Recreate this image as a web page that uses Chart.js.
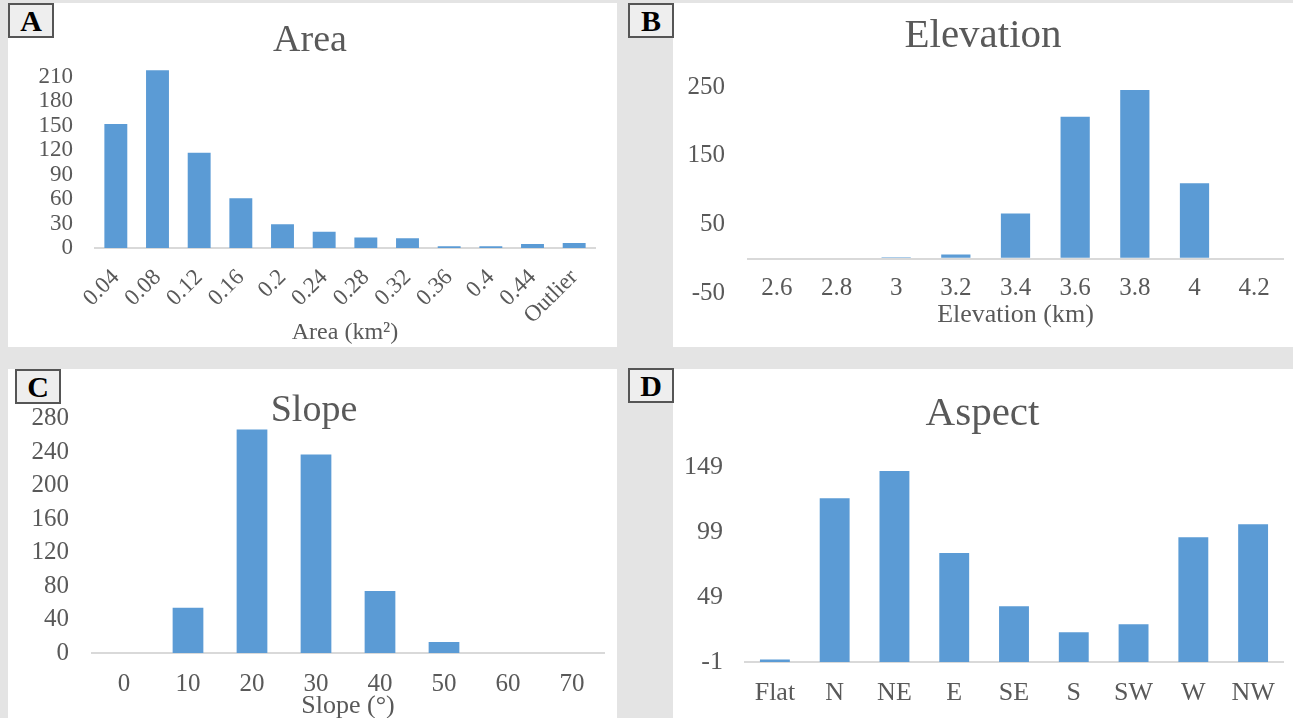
<!DOCTYPE html>
<html lang="en">
<head>
    <meta charset="UTF-8">
    <title>Area, Elevation, Slope, Aspect</title>
    <script src="https://cdn.jsdelivr.net/npm/chart.js"></script>
    <style>
        body {
            margin: 0;
            width: 1293px;
            height: 718px;
            background-color: #e4e4e4;
            position: relative;
            overflow: hidden;
            font-family: "Liberation Serif", "Times New Roman", serif;
        }
        .panel {
            position: absolute;
            background: #fff;
        }
        .tag {
            position: absolute;
            box-sizing: border-box;
            width: 46px;
            height: 35px;
            background: #eeeeee;
            border: 2px solid #555;
            font-weight: bold;
            font-size: 30px;
            line-height: 32px;
            text-align: center;
            color: #000;
        }
    </style>
</head>
<body>
    <div class="panel" style="left:8px; top:3px; width:609px; height:344px;"><canvas id="chartA"></canvas></div>
    <div class="panel" style="left:673px; top:3px; width:620px; height:344px;"><canvas id="chartB"></canvas></div>
    <div class="panel" style="left:8px; top:369px; width:609px; height:349px;"><canvas id="chartC"></canvas></div>
    <div class="panel" style="left:673px; top:369px; width:620px; height:349px;"><canvas id="chartD"></canvas></div>

    <div class="tag" style="left:8px; top:3px;">A</div>
    <div class="tag" style="left:628px; top:3px;">B</div>
    <div class="tag" style="left:15px; top:369px;">C</div>
    <div class="tag" style="left:628px; top:368px;">D</div>

    <script>
        // A - Area
        const areaLabels = ['0.04', '0.08', '0.12', '0.16', '0.2', '0.24', '0.28', '0.32', '0.36', '0.4', '0.44', 'Outlier'];
        const areaCounts = [152, 218, 117, 61, 29, 20, 13, 12, 2, 2, 5, 6];

        // B - Elevation
        const elevLabels = ['2.6', '2.8', '3', '3.2', '3.4', '3.6', '3.8', '4', '4.2'];
        const elevCounts = [0, 0, 2, 6, 66, 207, 246, 110, 0];

        // C - Slope
        const slopeLabels = ['0', '10', '20', '30', '40', '50', '60', '70'];
        const slopeCounts = [0, 54, 267, 237, 74, 13, 0, 0];

        // D - Aspect
        const aspectLabels = ['Flat', 'N', 'NE', 'E', 'SE', 'S', 'SW', 'W', 'NW'];
        const aspectCounts = [1, 125, 146, 83, 42, 22, 28, 95, 105];

        const barColor = '#5b9bd5';
        const textColor = '#595959';
        const lineColor = '#d9d9d9';
        const serif = '"Liberation Serif", "Times New Roman", serif';

        const makeChart = (id, labels, data, cfg) => {
            const ctx = document.getElementById(id).getContext('2d');
            const dataset = {
                data: data,
                backgroundColor: barColor,
                borderWidth: 0,
                barPercentage: cfg.barPct,
                categoryPercentage: 1
            };
            if (cfg.base !== undefined) dataset.base = cfg.base;

            return new Chart(ctx, {
                type: 'bar',
                data: { labels: labels, datasets: [dataset] },
                options: {
                    responsive: true,
                    maintainAspectRatio: false,
                    animation: false,
                    layout: { padding: { left: cfg.padLeft, right: cfg.padRight, top: 0, bottom: 0 } },
                    plugins: {
                        legend: { display: false },
                        tooltip: { enabled: false },
                        title: {
                            display: true,
                            text: cfg.title,
                            color: textColor,
                            font: { family: serif, size: cfg.titleFont, weight: 'normal' },
                            padding: cfg.titlePad
                        }
                    },
                    scales: {
                        x: {
                            grid: { display: false, drawTicks: false },
                            border: { display: cfg.xBorder, color: lineColor, width: 2 },
                            ticks: {
                                color: textColor,
                                font: { family: serif, size: cfg.xFont },
                                padding: cfg.xTickPad,
                                mirror: !!cfg.xMirror,
                                minRotation: cfg.rot,
                                maxRotation: cfg.rot,
                                autoSkip: false
                            },
                            title: {
                                display: !!cfg.xTitle,
                                text: cfg.xTitle,
                                color: textColor,
                                font: { family: serif, size: cfg.xTitleFont },
                                padding: { top: 0, bottom: cfg.xTitlePad }
                            },
                            afterFit: (scale) => { scale.height = cfg.xHeight; }
                        },
                        y: {
                            min: cfg.min,
                            max: cfg.max,
                            grid: {
                                display: !!cfg.zeroLine,
                                drawTicks: false,
                                lineWidth: 2,
                                color: (c) => (c.tick && c.tick.value === 0) ? lineColor : 'rgba(0,0,0,0)'
                            },
                            border: { display: false },
                            afterBuildTicks: (scale) => {
                                if (cfg.zeroLine) {
                                    scale.ticks.push({ value: 0 });
                                    scale.ticks.sort((a, b) => a.value - b.value);
                                }
                            },
                            ticks: {
                                stepSize: cfg.step,
                                includeBounds: false,
                                autoSkip: false,
                                color: textColor,
                                font: { family: serif, size: cfg.yFont },
                                padding: cfg.yTickPad,
                                callback: (v) => (cfg.zeroLine && v === 0) ? '' : v
                            },
                            afterFit: (scale) => { scale.width = cfg.yWidth; }
                        }
                    }
                }
            });
        };

        makeChart('chartA', areaLabels, areaCounts, {
            title: 'Area', titleFont: 38, titlePad: { top: 15, bottom: 1 },
            min: 0, max: 225, step: 30, barPct: 0.55,
            xBorder: true, rot: 45, xFont: 23, xTickPad: 16,
            xTitle: 'Area (km\u00B2)', xTitleFont: 24, xTitlePad: 0,
            xHeight: 99, yFont: 23, yTickPad: 22, yWidth: 70, padLeft: 17, padRight: 22
        });

        makeChart('chartB', elevLabels, elevCounts, {
            title: 'Elevation', titleFont: 41, titlePad: { top: 9, bottom: 26 },
            min: -50, max: 250, step: 100, barPct: 0.49, zeroLine: true,
            xBorder: false, rot: 0, xFont: 25, xTickPad: -10, xMirror: true,
            xTitle: 'Elevation (km)', xTitleFont: 26, xTitlePad: 16,
            xHeight: 54, yFont: 25, yTickPad: 22, yWidth: 65, padLeft: 9, padRight: 9
        });

        makeChart('chartC', slopeLabels, slopeCounts, {
            title: 'Slope', titleFont: 38, titlePad: { top: 19, bottom: -15 },
            min: 0, max: 280, step: 40, barPct: 0.48,
            xBorder: true, rot: 0, xFont: 25, xTickPad: 16,
            xTitle: 'Slope (\u00B0)', xTitleFont: 26, xTitlePad: -4,
            xHeight: 65, yFont: 25, yTickPad: 23, yWidth: 68, padLeft: 16, padRight: 13
        });

        makeChart('chartD', aspectLabels, aspectCounts, {
            title: 'Aspect', titleFont: 41, titlePad: { top: 21, bottom: 28 },
            min: -1, max: 149, step: 50, barPct: 0.5, base: -1,
            xBorder: true, rot: 0, xFont: 26, xTickPad: 16,
            xTitle: '', xTitleFont: 26, xTitlePad: 0,
            xHeight: 56, yFont: 26, yTickPad: 22, yWidth: 63, padLeft: 9, padRight: 10
        });
    </script>
</body>
</html>
